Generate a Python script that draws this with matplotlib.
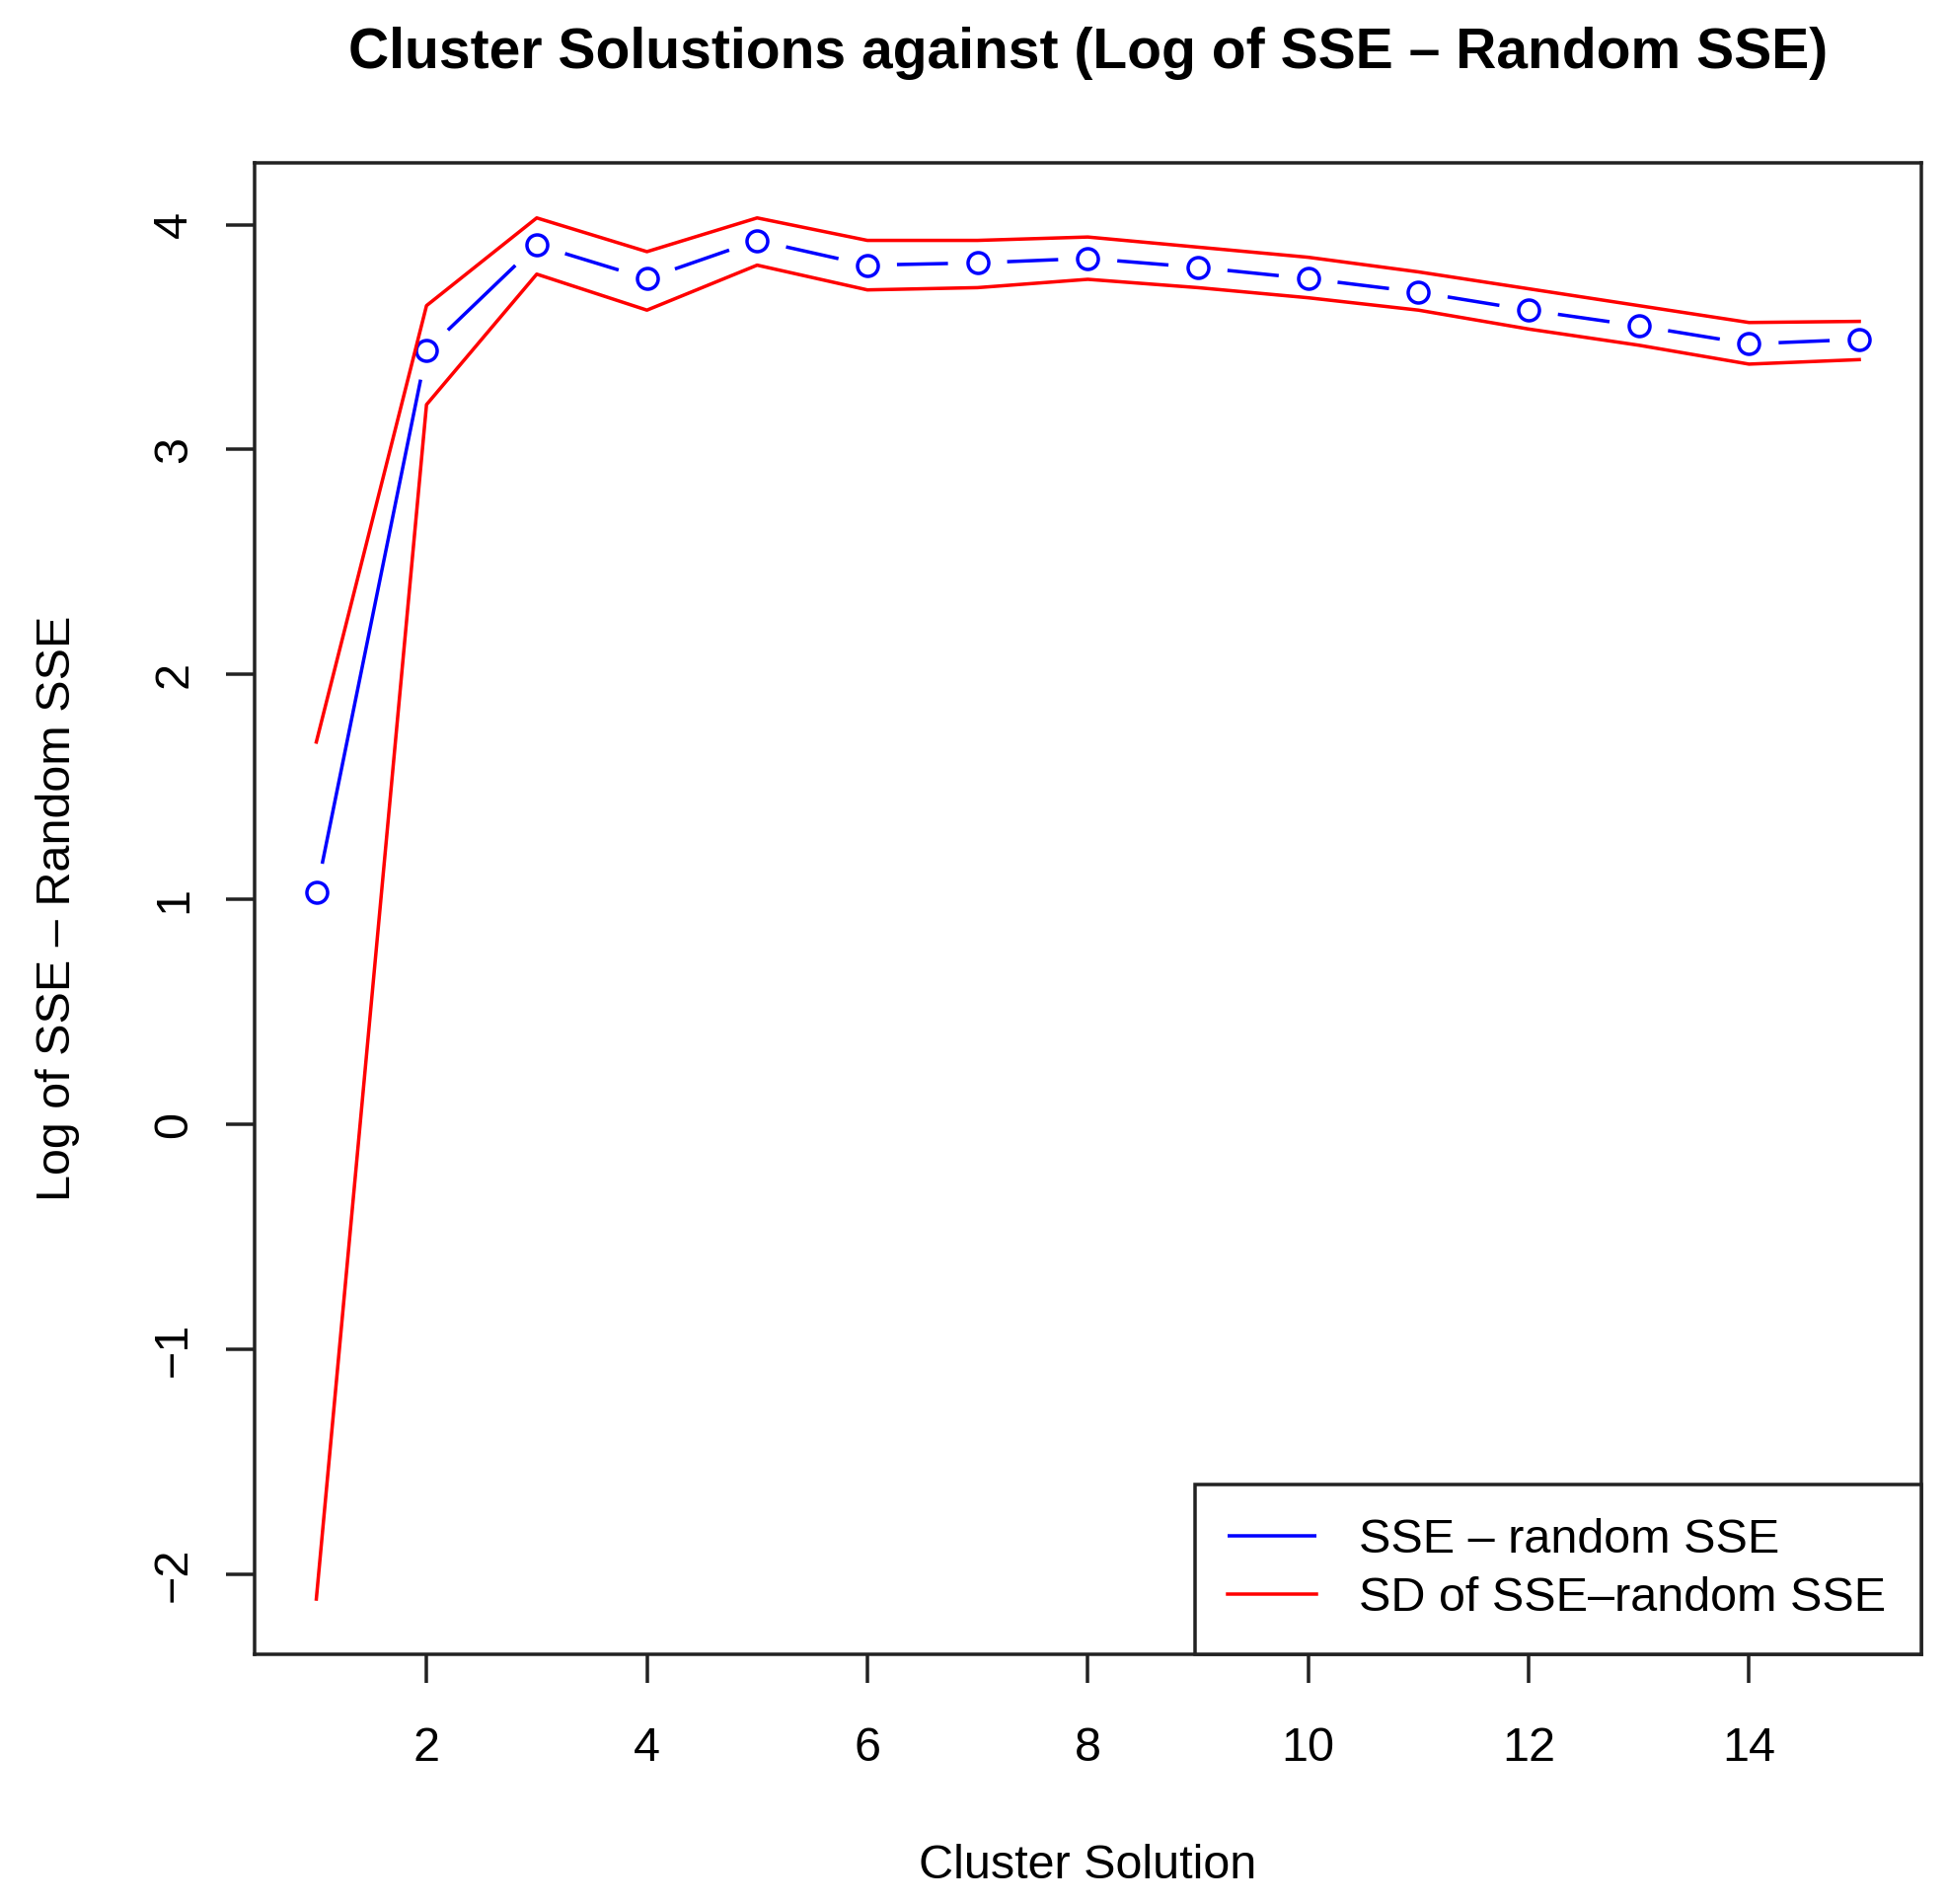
import matplotlib
matplotlib.use('Agg')
import matplotlib.pyplot as plt
import numpy as np

plt.rcParams['font.family'] = ['Liberation Sans', 'DejaVu Sans']

# cluster solutions 1..15
clusters = list(range(1, 16))
# log of (SSE - random SSE)
sse_diff = [1.03, 3.44, 3.91, 3.76, 3.93, 3.82, 3.83, 3.85, 3.81, 3.76, 3.70, 3.62, 3.55, 3.47, 3.49]
# band from the SD
sd_upper = [1.70, 3.64, 4.03, 3.88, 4.03, 3.93, 3.93, 3.945, 3.90, 3.855, 3.79, 3.715, 3.64, 3.565, 3.57]
sd_lower = [-2.11, 3.20, 3.78, 3.62, 3.82, 3.71, 3.72, 3.757, 3.72, 3.675, 3.62, 3.536, 3.464, 3.38, 3.40]

x_ticks = [2, 4, 6, 8, 10, 12, 14]
y_ticks = [-2, -1, 0, 1, 2, 3, 4]

W, H = 1973, 1929
DPI = 100
px = 72 / DPI  # points per pixel

fig = plt.figure(figsize=(W / DPI, H / DPI), dpi=DPI, facecolor='white')
ax_l, ax_r, ax_t, ax_b = 258, 1946.6, 164.8, 1676
ax = fig.add_axes([ax_l / W, 1 - ax_b / H, (ax_r - ax_l) / W, (ax_b - ax_t) / H])

base = 34.9
lw = 3.5 * px

# R style limits: 4% padding
xlo, xhi = min(clusters), max(clusters)
ax.set_xlim(xlo - 0.04 * (xhi - xlo), xhi + 0.04 * (xhi - xlo))
allv = sd_lower + sd_upper + sse_diff
ylo, yhi = min(allv), max(allv)
ax.set_ylim(ylo - 0.04 * (yhi - ylo), yhi + 0.04 * (yhi - ylo))

# blue line with gaps around the points (type = "b")
gap = 30
pts = ax.transData.transform(np.column_stack([clusters, sse_diff]))
seg_x, seg_y = [], []
for p0, p1 in zip(pts[:-1], pts[1:]):
    d = p1 - p0
    n = np.hypot(*d)
    if n <= 2 * gap:
        continue
    a = p0 + d / n * gap
    b = p1 - d / n * gap
    a, b = ax.transData.inverted().transform([a, b])
    seg_x += [a[0], b[0], np.nan]
    seg_y += [a[1], b[1], np.nan]
ax.plot(seg_x, seg_y, color='#0000FF', lw=lw, solid_capstyle='butt', label='SSE – random SSE')
ax.plot(clusters, sse_diff, linestyle='none', marker='o', markersize=21 * px,
        markerfacecolor='none', markeredgecolor='#0000FF', markeredgewidth=lw)

ax.plot(clusters, sd_upper, color='#FF0000', lw=lw, label='SD of SSE–random SSE')
ax.plot(clusters, sd_lower, color='#FF0000', lw=lw)

ax.set_xticks(x_ticks)
ax.set_yticks(y_ticks)
ax.tick_params(axis='both', direction='out', length=29 * px, width=lw, labelsize=base, color='#222222')
ax.tick_params(axis='x', pad=44 * px)
ax.tick_params(axis='y', pad=30 * px)
for t in ax.get_yticklabels():
    t.set_rotation(90)
    t.set_va('center')
for s in ax.spines.values():
    s.set_linewidth(lw)
    s.set_color('#222222')

ax.set_title('Cluster Solustions against (Log of SSE – Random SSE)', fontsize=41, fontweight='bold', pad=96 * px)

ax.set_xlabel('Cluster Solution', fontsize=base)
ax.xaxis.set_label_coords(0.5, -(1902.6 - ax_b) / (ax_b - ax_t))
ax.xaxis.label.set_va('baseline')
ax.set_ylabel('Log of SSE – Random SSE', fontsize=base)
ax.yaxis.set_label_coords(-(ax_l - 71) / (ax_r - ax_l), 0.5)
ax.yaxis.label.set_va('baseline')

leg_left = (1210.5 - ax_l) / (ax_r - ax_l)
leg = ax.legend(loc='lower right', bbox_to_anchor=(leg_left, 0, 1 - leg_left, 0.5), mode='expand',
                borderaxespad=0, borderpad=0.7, fontsize=base, handlelength=1.85,
                handletextpad=0.88, labelspacing=0.3, fancybox=False, framealpha=1)
leg.get_frame().set_edgecolor('#222222')
leg.get_frame().set_linewidth(lw)

fig.savefig('out.png', dpi=DPI, facecolor='white')
